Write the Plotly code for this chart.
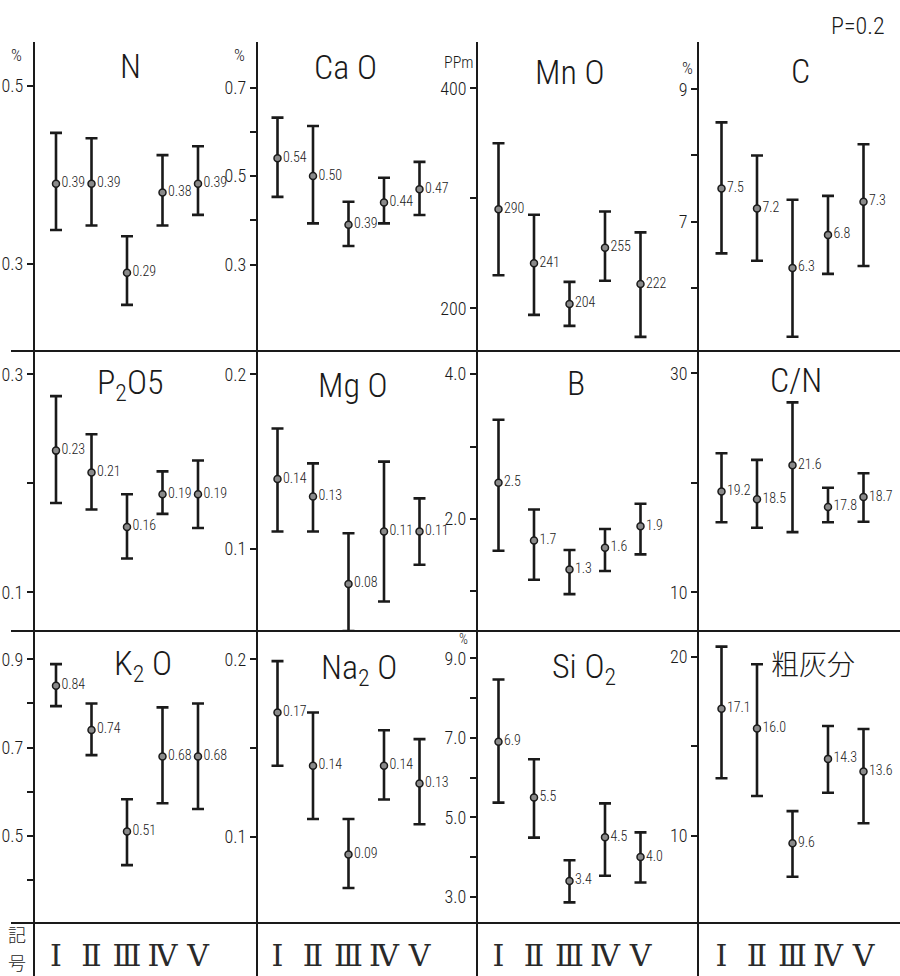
import plotly.graph_objects as go

# ---------------- data ----------------
groups = ["Ⅰ", "Ⅱ", "Ⅲ", "Ⅳ", "Ⅴ"]
xpos = [1, 2, 3, 4, 5]

N_mean = [0.39, 0.39, 0.29, 0.38, 0.39]
N_low = [0.338, 0.343, 0.254, 0.343, 0.355]
N_high = [0.447, 0.441, 0.331, 0.422, 0.432]

CaO_mean = [0.54, 0.50, 0.39, 0.44, 0.47]
CaO_low = [0.453, 0.393, 0.342, 0.393, 0.412]
CaO_high = [0.632, 0.613, 0.442, 0.496, 0.532]

MnO_mean = [290, 241, 204, 255, 222]
MnO_low = [230, 194, 184, 225, 174]
MnO_high = [350, 285, 224, 288, 269]

C_mean = [7.5, 7.2, 6.3, 6.8, 7.3]
C_low = [6.52, 6.41, 5.26, 6.21, 6.33]
C_high = [8.50, 8.00, 7.33, 7.39, 8.17]

P2O5_mean = [0.23, 0.21, 0.16, 0.19, 0.19]
P2O5_low = [0.182, 0.176, 0.131, 0.172, 0.159]
P2O5_high = [0.280, 0.245, 0.190, 0.211, 0.221]

MgO_mean = [0.14, 0.13, 0.08, 0.11, 0.11]
MgO_low = [0.110, 0.110, 0.053, 0.070, 0.091]
MgO_high = [0.169, 0.149, 0.109, 0.150, 0.129]

B_mean = [2.5, 1.7, 1.3, 1.6, 1.9]
B_low = [1.56, 1.16, 0.96, 1.28, 1.51]
B_high = [3.37, 2.13, 1.57, 1.86, 2.21]

CN_mean = [19.2, 18.5, 21.6, 17.8, 18.7]
CN_low = [16.4, 15.9, 15.5, 16.4, 16.45]
CN_high = [22.7, 22.1, 27.35, 19.55, 20.87]

K2O_mean = [0.84, 0.74, 0.51, 0.68, 0.68]
K2O_low = [0.794, 0.683, 0.434, 0.574, 0.561]
K2O_high = [0.889, 0.800, 0.583, 0.791, 0.800]

Na2O_mean = [0.17, 0.14, 0.09, 0.14, 0.13]
Na2O_low = [0.140, 0.110, 0.071, 0.121, 0.107]
Na2O_high = [0.199, 0.170, 0.110, 0.160, 0.155]

SiO2_mean = [6.9, 5.5, 3.4, 4.5, 4.0]
SiO2_low = [5.37, 4.49, 2.86, 3.53, 3.36]
SiO2_high = [8.47, 6.46, 3.92, 5.35, 4.62]

Ash_mean = [17.1, 16.0, 9.6, 14.3, 13.6]
Ash_low = [13.22, 12.23, 7.73, 12.41, 10.71]
Ash_high = [20.56, 19.58, 11.39, 16.13, 15.97]

# ---------------- panel configuration ----------------
# (title, mean, low, high, label format, labelled ticks, tick text, minor ticks, y range, title centre px)
panels = [
    ("N", N_mean, N_low, N_high, ".2f", [0.5, 0.3], ["0.5", "0.3"], [], [0.2022, 0.549], (130, 66)),
    ("Ca O", CaO_mean, CaO_low, CaO_high, ".2f", [0.7, 0.5, 0.3], ["0.7", "0.5", "0.3"], [0.6, 0.4], [0.1045, 0.803], (345, 67)),
    ("Mn O", MnO_mean, MnO_low, MnO_high, ".0f", [400, 200], ["400", "200"], [300], [161.2, 442], (570, 72)),
    ("C", C_mean, C_low, C_high, ".1f", [9, 7], ["9", "7"], [8, 6], [5.045, 9.715], (800, 71)),
    ("P<sub>2</sub>O5", P2O5_mean, P2O5_low, P2O5_high, ".2f", [0.3, 0.1], ["0.3", "0.1"], [0.2], [0.0645, 0.3214], (130, 384)),
    ("Mg O", MgO_mean, MgO_low, MgO_high, ".2f", [0.2, 0.1], ["0.2", "0.1"], [], [0.0531, 0.2133], (353, 385)),
    ("B", B_mean, B_low, B_high, ".1f", [4.0, 2.0], ["4.0", "2.0"], [3.0, 1.0], [0.451, 4.32], (576, 383)),
    ("C/N", CN_mean, CN_low, CN_high, ".1f", [30, 10], ["30", "10"], [20], [6.47, 32.04], (796, 380)),
    ("K<sub>2</sub> O", K2O_mean, K2O_low, K2O_high, ".2f", [0.9, 0.7, 0.5], ["0.9", "0.7", "0.5"], [0.8, 0.6, 0.4], [0.303, 0.964], (143, 665)),
    ("Na<sub>2</sub> O", Na2O_mean, Na2O_low, Na2O_high, ".2f", [0.2, 0.1], ["0.2", "0.1"], [0.15], [0.0513, 0.216], (359, 669)),
    ("Si O<sub>2</sub>", SiO2_mean, SiO2_low, SiO2_high, ".1f", [9.0, 7.0, 5.0, 3.0], ["9.0", "7.0", "5.0", "3.0"], [8, 6, 4], [2.34, 9.69], (584, 668)),
    ("粗灰分", Ash_mean, Ash_low, Ash_high, ".1f", [20, 10], ["20", "10"], [15], [5.15, 21.43], (813, 663)),
]

W, H = 900, 976
col_px = [(34, 257), (257, 477), (477, 698), (698, 900)]
row_px = [(42, 351), (351, 631), (631, 923)]
col_first_off = [22.0, 20.5, 21.5, 23.5]
spacing = 35.5

NARROW = "Roboto Condensed, Noto Sans Condensed, DejaVu Sans Condensed, Roboto, sans-serif"
CJK = "Noto Sans CJK JP"
SERIF = "DejaVu Serif, Noto Sans CJK JP"
INK = "#1a1a1a"

fig = go.Figure()
annotations = []
layout_axes = {}

for i, (title, mean, low, high, fmt, tv, tt, minor, yr, tpos) in enumerate(panels):
    r, c = divmod(i, 4)
    k = i + 1
    xs = "" if k == 1 else str(k)
    x0, x1 = col_px[c]
    y0, y1 = row_px[r]
    width = x1 - x0
    off = col_first_off[c]
    xr = [1 - off / spacing, 1 + (width - off) / spacing]
    plus = [h - m for h, m in zip(high, mean)]
    minus = [m - l for m, l in zip(mean, low)]
    fig.add_trace(go.Scatter(
        x=xpos, y=mean, mode="markers+text",
        text=[format(v, fmt) for v in mean],
        textposition="middle right",
        textfont=dict(family=NARROW, size=14, color=INK, weight=300),
        marker=dict(size=7, color="#8a8a8a", line=dict(color=INK, width=1.5)),
        error_y=dict(type="data", symmetric=False, array=plus, arrayminus=minus,
                     color=INK, thickness=2.6, width=6),
        cliponaxis=False, showlegend=False, hoverinfo="skip",
        xaxis="x" + xs, yaxis="y" + xs,
    ))
    bottom = (r == 2)
    layout_axes["xaxis" + xs] = dict(
        domain=[x0 / W, x1 / W], range=xr, anchor="y" + xs,
        showgrid=False, zeroline=False, showline=False, ticks="",
        tickvals=xpos, ticktext=groups if bottom else None,
        showticklabels=bottom,
        tickfont=dict(family=SERIF, size=30, color="#2a2a2a", weight=300),
        ticklabelstandoff=12,
    )
    layout_axes["yaxis" + xs] = dict(
        domain=[1 - y1 / H, 1 - y0 / H], range=yr, anchor="x" + xs,
        showgrid=False, zeroline=False, showline=False,
        tickvals=tv + minor, ticktext=tt + [""] * len(minor),
        ticks="outside", ticklen=6, tickwidth=1.5, tickcolor=INK,
        tickfont=dict(family=NARROW, size=18, color=INK, weight=300),
        ticklabelstandoff=0,
    )
    tfont = dict(family=CJK if title == "粗灰分" else NARROW,
                 size=28 if title == "粗灰分" else 34, color=INK, weight=300)
    annotations.append(dict(
        text=title, xref="paper", yref="paper",
        x=tpos[0] / W, y=1 - tpos[1] / H, xanchor="center", yanchor="middle",
        showarrow=False, font=tfont,
    ))


def paper_ann(text, px, py, size, family=NARROW, xanchor="center", yanchor="middle"):
    annotations.append(dict(text=text, xref="paper", yref="paper", x=px / W, y=1 - py / H,
                            xanchor=xanchor, yanchor=yanchor, showarrow=False,
                            font=dict(family=family, size=size, color=INK, weight=300)))


paper_ann("%", 16, 55, 17)
paper_ann("%", 239, 55, 17)
paper_ann("PPm", 475, 63, 16, xanchor="right")
paper_ann("%", 687, 68, 17)
paper_ann("%", 463, 639, 14)
paper_ann("P=0.2", 887, 26, 24, xanchor="right")
paper_ann("記", 17, 934, 18, family=CJK)
paper_ann("号", 17, 962, 18, family=CJK)

shapes = []
for xp in [34, 257, 477, 698]:
    shapes.append(dict(type="line", xref="paper", yref="paper",
                       x0=xp / W, x1=xp / W, y0=1 - 42 / H, y1=0,
                       line=dict(color=INK, width=2)))
for yp in [351, 631, 923]:
    shapes.append(dict(type="line", xref="paper", yref="paper",
                       x0=11 / W, x1=1, y0=1 - yp / H, y1=1 - yp / H,
                       line=dict(color=INK, width=2)))

fig.update_layout(
    width=W, height=H,
    margin=dict(l=0, r=0, t=0, b=0),
    paper_bgcolor="white", plot_bgcolor="white",
    showlegend=False,
    annotations=annotations, shapes=shapes,
    **layout_axes,
)

fig.write_html("out.html", config={"displayModeBar": False},
               post_script="document.body.style.margin='0';document.body.style.overflow='hidden';")
